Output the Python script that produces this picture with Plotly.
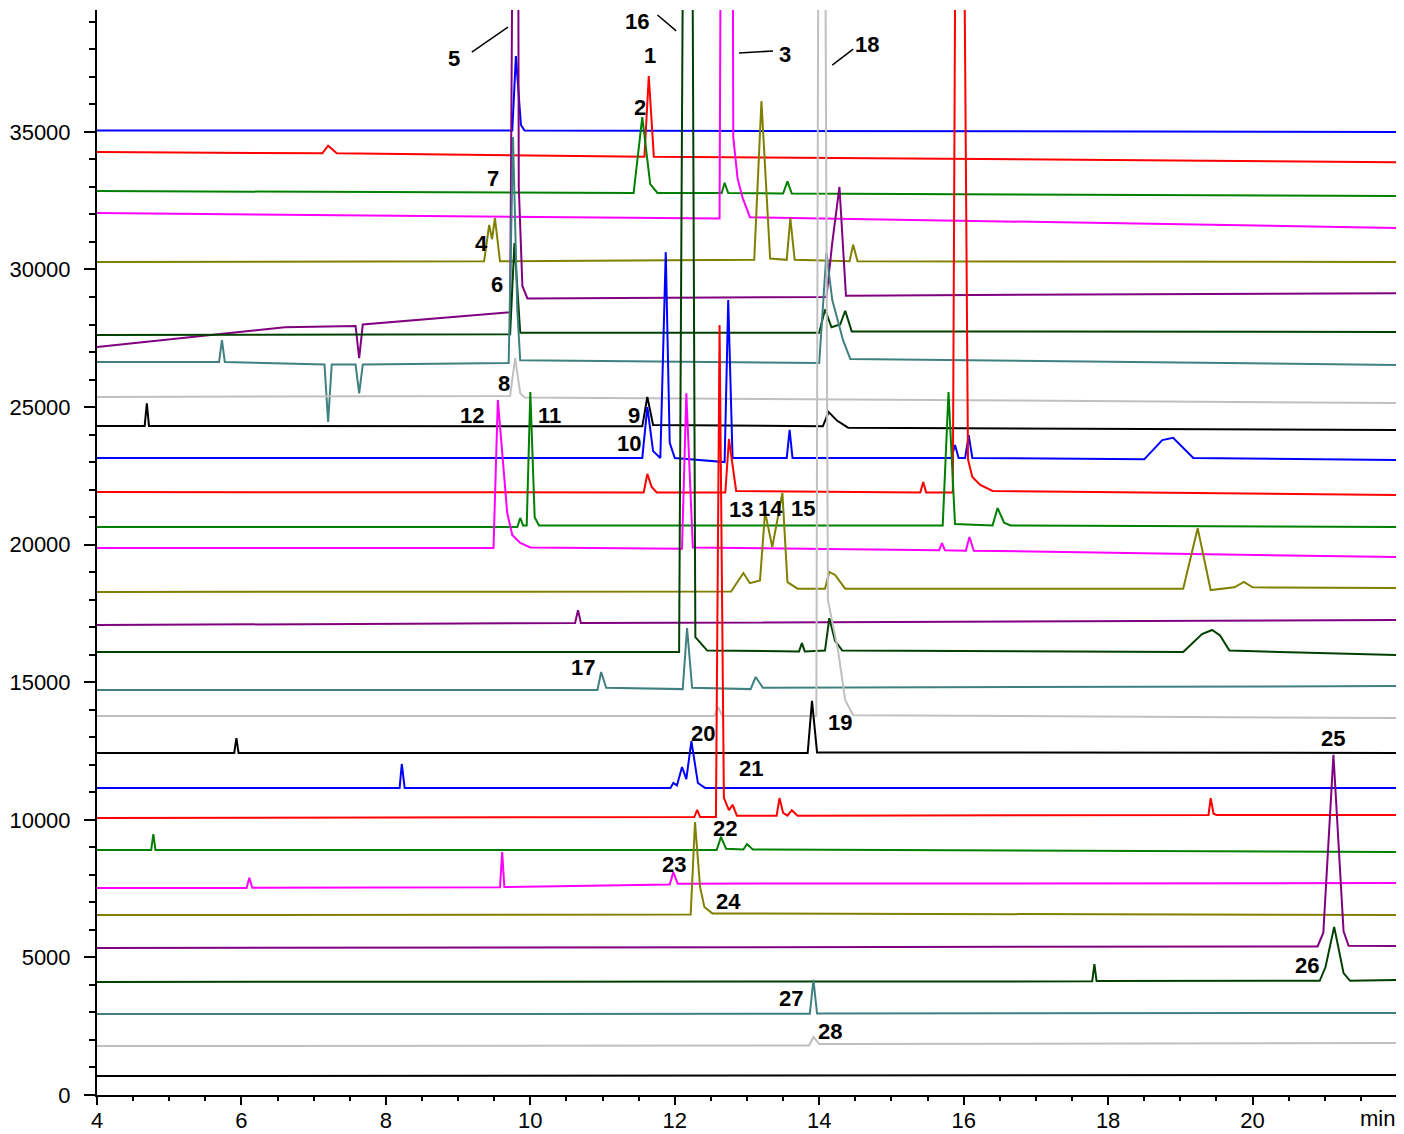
import plotly.graph_objects as go

# ---------------- data ----------------
COLORS = ["#0000FF", "#FF0000", "#008000", "#FF00FF", "#808000",
          "#800080", "#004000", "#408080", "#C0C0C0", "#000000"]

# each trace: (time [min], signal) vertices; values above the axis range are off-scale peaks
TR01 = [(4, 35050), (9.75, 35050), (9.80, 37760), (9.87, 35250), (9.92, 35050), (22, 35000)]
TR02 = [(4, 34270), (7.12, 34220), (7.20, 34500), (7.32, 34220), (11.58, 34100), (11.64, 37030),
        (11.71, 34100), (22, 33900)]
TR03 = [(4, 32850), (11.43, 32780), (11.55, 35540), (11.66, 33100), (11.76, 32780), (12.65, 32780),
        (12.69, 33150), (12.74, 32780), (13.50, 32760), (13.56, 33200), (13.62, 32760), (22, 32670)]
TR04 = [(4, 32050), (12.62, 31850), (12.64, 45000), (12.80, 45000), (12.81, 34800), (12.87, 33300),
        (12.94, 32600), (13.04, 31900), (22, 31510)]
TR05 = [(4, 30270), (9.36, 30300), (9.43, 31620), (9.47, 31100), (9.51, 31870), (9.58, 30300),
        (13.10, 30350), (13.20, 36120), (13.32, 30400), (13.55, 30350), (13.60, 31870), (13.66, 30350),
        (14.42, 30300), (14.47, 30900), (14.53, 30300), (22, 30270)]
TR06 = [(4, 27180), (6.6, 27900), (7.58, 27950), (7.63, 26780), (7.68, 28000), (9.72, 28450),
        (9.76, 45000), (9.83, 45000), (9.84, 33000), (9.89, 29400), (9.96, 28950), (14.10, 29000),
        (14.18, 30960), (14.28, 33000), (14.37, 29050), (22, 29140)]
TR07 = [(4, 27620), (9.72, 27650), (9.78, 30960), (9.86, 27700), (14.00, 27700), (14.08, 28550),
        (14.17, 27900), (14.29, 28000), (14.36, 28500), (14.45, 27750), (22, 27730)]
TR08 = [(4, 26640), (5.69, 26640), (5.73, 27430), (5.77, 26640), (7.15, 26550), (7.20, 24460),
        (7.25, 26550), (7.58, 26550), (7.63, 25500), (7.68, 26550), (9.70, 26600), (9.76, 34810),
        (9.82, 28500), (9.86, 26700), (14.00, 26600), (14.10, 30600), (14.18, 28900), (14.33, 27430),
        (14.43, 26750), (22, 26530)]
TR09 = [(4, 25370), (9.72, 25400), (9.79, 26780), (9.86, 25500), (9.92, 25350), (22, 25150)]
TR10 = [(4, 24310), (4.66, 24310), (4.69, 25140), (4.72, 24310), (11.55, 24300), (11.62, 25370),
        (11.70, 24350), (14.05, 24300), (14.13, 24820), (14.25, 24500), (14.40, 24250), (22, 24170)]
TR11 = [(4, 23150), (11.55, 23150), (11.62, 25000), (11.70, 23400), (11.80, 23150), (11.875, 30630),
        (11.93, 23700), (12.00, 23150), (12.69, 23000), (12.74, 28890), (12.80, 23150), (13.55, 23150),
        (13.59, 24170), (13.63, 23150), (15.83, 23150), (15.88, 23620), (15.93, 23150), (16.02, 23150),
        (16.07, 23980), (16.12, 23150), (18.50, 23100), (18.75, 23800), (18.90, 23880), (19.18, 23150),
        (22, 23080)]
TR12 = [(4, 21910), (11.57, 21900), (11.62, 22570), (11.68, 22100), (11.75, 21900), (12.70, 21900),
        (12.75, 23840), (12.85, 21950), (15.40, 21900), (15.44, 22280), (15.48, 21900), (15.85, 21900),
        (15.89, 45000), (16.00, 45000), (16.06, 23100), (16.12, 22460), (16.23, 22170), (16.40, 21950),
        (22, 21800)]
TR13 = [(4, 20640), (9.82, 20640), (9.86, 20970), (9.90, 20700), (9.95, 20700), (10.00, 25550),
        (10.06, 21000), (10.12, 20700), (15.71, 20700), (15.79, 25550), (15.88, 20750), (16.40, 20700),
        (16.47, 21330), (16.56, 20800), (16.65, 20700), (22, 20640)]
TR14 = [(4, 19880), (9.49, 19880), (9.55, 25260), (9.68, 21150), (9.75, 20350), (9.86, 20060),
        (10.0, 19900), (12.10, 19850), (12.16, 25500), (12.25, 19900), (15.66, 19800), (15.70, 20060),
        (15.74, 19800), (16.03, 19780), (16.08, 20280), (16.14, 19780), (22, 19550)]
TR15 = [(4, 18280), (12.78, 18300), (12.95, 18970), (13.04, 18600), (13.18, 18700), (13.25, 21190),
        (13.35, 19910), (13.49, 21880), (13.56, 18640), (13.70, 18400), (14.08, 18400), (14.14, 19010),
        (14.22, 18900), (14.36, 18400), (19.04, 18400), (19.24, 20600), (19.42, 18350), (19.75, 18450),
        (19.88, 18650), (20.0, 18450), (22, 18420)]
TR16 = [(4, 17080), (10.62, 17150), (10.66, 17620), (10.70, 17150), (22, 17260)]
TR17 = [(4, 16100), (12.06, 16100), (12.12, 45000), (12.24, 45000), (12.285, 16640), (12.35, 16450),
        (12.45, 16150), (13.72, 16120), (13.76, 16420), (13.80, 16120), (14.08, 16150), (14.14, 17330),
        (14.22, 16500), (14.32, 16150), (19.04, 16100), (19.30, 16750), (19.44, 16900), (19.55, 16700),
        (19.68, 16150), (22, 15990)]
TR18 = [(4, 14720), (10.93, 14720), (10.98, 15370), (11.05, 14800), (12.11, 14750), (12.17, 16970),
        (12.24, 14800), (13.05, 14750), (13.12, 15190), (13.22, 14800), (22, 14860)]
TR19 = [(4, 13770), (12.55, 13770), (12.60, 14100), (12.66, 13770), (13.96, 13770), (13.99, 45000),
        (14.08, 45000), (14.12, 17990), (14.26, 16170), (14.36, 14350), (14.47, 13800), (22, 13700)]
TR20 = [(4, 12430), (5.90, 12430), (5.93, 12970), (5.96, 12430), (13.84, 12430), (13.90, 14320),
        (13.97, 12450), (22, 12430)]
TR21 = [(4, 11160), (8.19, 11160), (8.22, 12030), (8.26, 11160), (11.94, 11160), (11.98, 11340),
        (12.03, 11250), (12.10, 11920), (12.16, 11480), (12.23, 12860), (12.32, 11340), (12.42, 11160),
        (22, 11160)]
TR22 = [(4, 10070), (12.27, 10100), (12.31, 10360), (12.35, 10100), (12.57, 10100), (12.62, 27980),
        (12.68, 10800), (12.75, 10350), (12.80, 10550), (12.86, 10150), (13.41, 10150), (13.45, 10790),
        (13.50, 10250), (13.56, 10150), (13.62, 10350), (13.70, 10150), (19.39, 10180), (19.42, 10790),
        (19.46, 10220), (19.50, 10180), (22, 10180)]
TR23 = [(4, 8900), (4.75, 8900), (4.78, 9480), (4.81, 8900), (12.58, 8900), (12.64, 9380),
        (12.71, 8950), (12.95, 8920), (13.00, 9120), (13.08, 8920), (22, 8830)]
TR24 = [(4, 7520), (6.07, 7520), (6.11, 7890), (6.15, 7530), (9.58, 7550), (9.61, 8830), (9.64, 7560),
        (11.93, 7650), (11.98, 8100), (12.04, 7680), (22, 7700)]
TR25 = [(4, 6540), (12.22, 6560), (12.28, 9920), (12.35, 7560), (12.41, 6830), (12.47, 6720),
        (12.52, 6600), (22, 6540)]
TR26 = [(4, 5340), (20.90, 5400), (20.98, 5900), (21.12, 12360), (21.26, 5950), (21.33, 5420),
        (22, 5410)]
TR27 = [(4, 4110), (17.78, 4130), (17.81, 4760), (17.84, 4140), (20.93, 4150), (21.01, 4650),
        (21.13, 6110), (21.26, 4430), (21.35, 4150), (22, 4180)]
TR28 = [(4, 2940), (13.87, 2950), (13.92, 4180), (13.97, 2960), (22, 2980)]
TR29 = [(4, 1780), (13.86, 1800), (13.92, 2110), (14.00, 1850), (22, 1890)]
TR30 = [(4, 690), (22, 730)]

TRACES = [TR01, TR02, TR03, TR04, TR05, TR06, TR07, TR08, TR09, TR10,
          TR11, TR12, TR13, TR14, TR15, TR16, TR17, TR18, TR19, TR20,
          TR21, TR22, TR23, TR24, TR25, TR26, TR27, TR28, TR29, TR30]

# peak labels
LABEL_TEXT = [str(i) for i in range(1, 29)]
LABEL_X = [11.65, 11.52, 13.52, 9.32, 8.94, 9.54, 9.48, 9.64, 11.44, 11.37,
           10.27, 9.19, 12.92, 13.32, 13.78, 11.47, 10.73, 14.66, 14.29, 12.39,
           13.06, 12.70, 11.99, 12.74, 21.12, 20.75, 13.61, 14.15]
LABEL_Y = [37790, 35900, 37830, 30960, 37680, 29470, 33320, 25840, 24710, 23660,
           24710, 24710, 21260, 21330, 21330, 39000, 15520, 38160, 13550, 13150,
           11850, 9670, 8360, 7050, 12970, 4720, 3520, 2290]

# leader lines for labels 5, 16, 3, 18
LEADER_X0 = [9.19, 11.76, 12.89, 14.18]
LEADER_Y0 = [37900, 39250, 37870, 37430]
LEADER_X1 = [9.69, 12.02, 13.36, 14.47]
LEADER_Y1 = [38810, 38670, 37940, 38010]

X_TICKS = [4, 6, 8, 10, 12, 14, 16, 18, 20, 22]
X_TICKTEXT = ["4", "6", "8", "10", "12", "14", "16", "18", "20", ""]
Y_TICKS = [0, 5000, 10000, 15000, 20000, 25000, 30000, 35000]

# ---------------- figure ----------------
FONT = "Liberation Sans, Arial, sans-serif"
fig = go.Figure()
for i, pts in enumerate(TRACES):
    fig.add_trace(go.Scatter(
        x=[p[0] for p in pts], y=[p[1] for p in pts], mode="lines",
        line=dict(color=COLORS[i % len(COLORS)], width=2),
        showlegend=False, hoverinfo="skip"))

for t, x, y in zip(LABEL_TEXT, LABEL_X, LABEL_Y):
    fig.add_annotation(x=x, y=y, text="<b>%s</b>" % t, showarrow=False,
                       font=dict(family=FONT, size=22, color="black"),
                       xanchor="center", yanchor="middle")

for x0, y0, x1, y1 in zip(LEADER_X0, LEADER_Y0, LEADER_X1, LEADER_Y1):
    fig.add_shape(type="line", x0=x0, y0=y0, x1=x1, y1=y1, xref="x", yref="y",
                  line=dict(color="black", width=1.5))

fig.add_annotation(x=22, y=0, xref="x", yref="paper", text="min", showarrow=False,
                   xanchor="right", yanchor="top", yshift=-9,
                   font=dict(family=FONT, size=22, color="black"))

# the page body adds an 8 px offset; size the figure so the plot area lands
# at x 97..1397 and y 10..1095 of the window
fig.update_layout(
    width=1396, height=1126,
    margin=dict(l=89, r=7, t=2, b=39, autoexpand=False),
    paper_bgcolor="white", plot_bgcolor="white",
    font=dict(family=FONT, size=22, color="black"),
    showlegend=False,
)
fig.update_xaxes(range=[4, 22], showline=True, linecolor="black", linewidth=2,
                 ticks="outside", ticklen=8, tickwidth=2, tickcolor="black",
                 tickvals=X_TICKS, ticktext=X_TICKTEXT, showgrid=False, zeroline=False,
                 tickfont=dict(family=FONT, size=22), automargin=False, ticklabelstandoff=-3,
                 minor=dict(dtick=0.5, tick0=4, ticks="outside", ticklen=4, tickwidth=2,
                            tickcolor="black", showgrid=False))
fig.update_yaxes(range=[0, 39430], showline=True, linecolor="black", linewidth=2,
                 ticks="outside", ticklen=11, tickwidth=2, tickcolor="black",
                 tickvals=Y_TICKS, tickformat="d", showgrid=False, zeroline=False,
                 tickfont=dict(family=FONT, size=22), ticklabelstandoff=9, automargin=False,
                 minor=dict(dtick=1000, tick0=0, ticks="outside", ticklen=6, tickwidth=2,
                            tickcolor="black", showgrid=False))

fig.write_html("out.html")
